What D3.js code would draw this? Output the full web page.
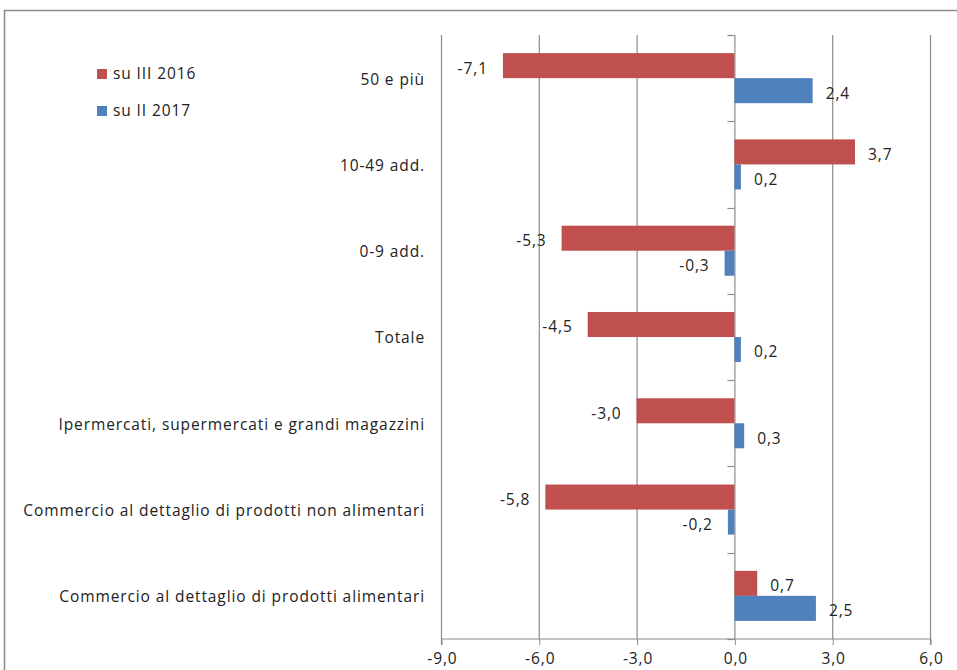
<!DOCTYPE html>
<html><head><meta charset="utf-8">
<script src="https://cdn.jsdelivr.net/npm/d3@7/dist/d3.min.js"></script>
<style>
body{margin:0;background:#fff;}
svg text{font-family:"Open Sans",sans-serif;fill:#222;font-size:15.5px;letter-spacing:0.9px;}
</style></head>
<body><svg id="c" width="957" height="670"></svg>
<script>
const categories = ["50 e più","10-49 add.","0-9 add.","Totale","Ipermercati, supermercati e grandi magazzini","Commercio al dettaglio di prodotti non alimentari","Commercio al dettaglio di prodotti alimentari"];
const seriesNames = ["su III 2016","su II 2017"];
const suIII2016 = [-7.1, 3.7, -5.3, -4.5, -3.0, -5.8, 0.7];
const suII2017 = [2.4, 0.2, -0.3, 0.2, 0.3, -0.2, 2.5];
const xTicks = [-9, -6, -3, 0, 3, 6];
const colors = ["#C0504D", "#4F81BD"];

(function(){
const svg = d3.select("#c");
const fmt = v => d3.format(".1f")(v).replace(".", ",").replace("−","-");

// outer chart border
svg.append("rect").attr("x",4.5).attr("y",10.5).attr("width",960).attr("height",680)
  .attr("fill","none").attr("stroke","#8c8c8c").attr("stroke-width",1.5);

const pLeft=441, pRight=930, pTop=35, pBottom=639;
const x = d3.scaleLinear().domain([-9,6]).range([pLeft,pRight]);
const y = d3.scaleBand().domain(categories).range([pTop,pBottom]).paddingInner(0.42).paddingOuter(0.21);
const ySub = d3.scaleBand().domain(seriesNames).range([0,y.bandwidth()]);

// gridlines
svg.append("g").selectAll("line").data(xTicks).join("line")
  .attr("x1",d=>x(d)+0.5).attr("x2",d=>x(d)+0.5).attr("y1",pTop).attr("y2",pBottom)
  .attr("stroke","#8c8c8c").attr("stroke-width",1.2);

// x axis
const xAxis = d3.axisBottom(x).tickValues(xTicks).tickFormat(fmt).tickSize(6).tickPadding(8);
const gx = svg.append("g").attr("transform",`translate(0.5,${pBottom})`).call(xAxis);
gx.select(".domain").attr("stroke","#8c8c8c").attr("stroke-width",1.2).attr("d",`M${pLeft},6V0H${pRight}V6`);
gx.selectAll(".tick line").attr("stroke","#8c8c8c");
gx.selectAll("text").attr("font-size",null).attr("font-family",null).attr("fill","#222").attr("dx","0.45px");

// category tick marks at zero
const step = y.step();
const bounds = d3.range(categories.length+1).map(i=>pTop + i*step);
svg.append("g").selectAll("line").data(bounds).join("line")
  .attr("x1",x(0)-7).attr("x2",x(0)).attr("y1",d=>Math.round(d)+0.5).attr("y2",d=>Math.round(d)+0.5)
  .attr("stroke","#8c8c8c").attr("stroke-width",1.2);

// bars
const rows = categories.map((c,i)=>({c, vals:[suIII2016[i], suII2017[i]]}));
const g = svg.append("g").selectAll("g").data(rows).join("g")
  .attr("transform",d=>`translate(0,${y(d.c)})`);
g.selectAll("rect").data(d=>d.vals.map((v,j)=>({v,s:seriesNames[j],j}))).join("rect")
  .attr("x",d=>x(Math.min(0,d.v))).attr("width",d=>Math.abs(x(d.v)-x(0)))
  .attr("y",d=>ySub(d.s)).attr("height",ySub.bandwidth())
  .attr("fill",d=>colors[d.j]);
g.selectAll("text.lab").data(d=>d.vals.map((v,j)=>({v,s:seriesNames[j],j}))).join("text")
  .attr("class","lab")
  .attr("x",d=>d.v<0 ? x(d.v)-15 : x(d.v)+13)
  .attr("y",d=>ySub(d.s)+ySub.bandwidth()/2+2.5)
  .attr("dy","0.35em")
  .attr("text-anchor",d=>d.v<0?"end":"start")
  .text(d=>fmt(d.v));

// category labels
svg.append("g").selectAll("text").data(categories).join("text")
  .attr("x",425).attr("y",d=>y(d)+y.bandwidth()/2+1).attr("dy","0.35em")
  .attr("text-anchor","end").text(d=>d);

// legend
const lg = svg.append("g").selectAll("g").data(seriesNames).join("g")
  .attr("transform",(d,i)=>`translate(97,${74+i*37})`);
lg.append("rect").attr("x",0).attr("y",-5).attr("width",10).attr("height",10).attr("fill",(d,i)=>colors[i]);
lg.append("text").attr("x",16).attr("y",0).attr("dy","0.35em").text(d=>d);
})();
</script></body></html>
